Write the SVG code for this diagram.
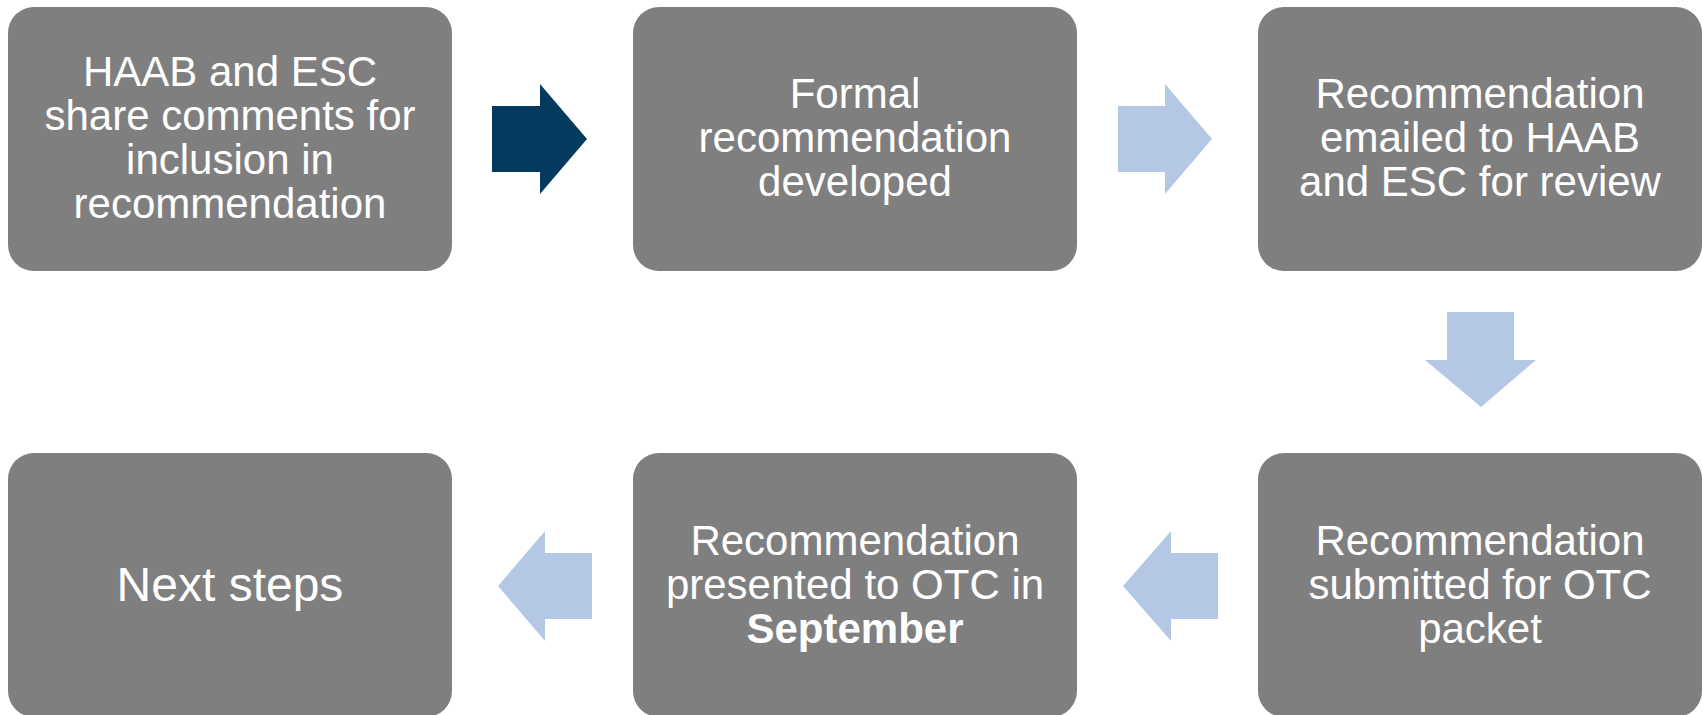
<svg xmlns="http://www.w3.org/2000/svg" width="1703" height="715" viewBox="0 0 1703 715">
<style>
.box{fill:#7f7f7f}
.t{font-family:"Liberation Sans",Arial,sans-serif;font-size:42px;fill:#ffffff;text-anchor:middle}
.big{font-size:48px}
.b{font-weight:bold}
.dark{fill:#033a5d}
.light{fill:#b4c8e6}
</style>
<rect width="1703" height="715" fill="#ffffff"/>
<g id="connectors">
<polygon class="dark" points="492,106 540,106 540,84 587,139 540,194 540,172 492,172"/>
<polygon class="light" points="1118,106 1165,106 1165,84 1212,139 1165,194 1165,172 1118,172"/>
<polygon class="light" points="1447,312 1514,312 1514,360 1536,360 1481,407 1425,360 1447,360"/>
<polygon class="light" points="1218,553 1171,553 1171,531 1123,586 1171,641 1171,619 1218,619"/>
<polygon class="light" points="592,553 545,553 545,531 498,586 545,641 545,619 592,619"/>
</g>
<g id="n1">
<rect class="box" x="8" y="7" width="444" height="264" rx="26"/>
<text class="t" x="230" y="86">HAAB and ESC</text>
<text class="t" x="230" y="130">share comments for</text>
<text class="t" x="230" y="174">inclusion in</text>
<text class="t" x="230" y="218">recommendation</text>
</g>
<g id="n2">
<rect class="box" x="633" y="7" width="444" height="264" rx="26"/>
<text class="t" x="855" y="107.5">Formal</text>
<text class="t" x="855" y="151.5">recommendation</text>
<text class="t" x="855" y="195.5">developed</text>
</g>
<g id="n3">
<rect class="box" x="1258" y="7" width="444" height="264" rx="26"/>
<text class="t" x="1480" y="107.5">Recommendation</text>
<text class="t" x="1480" y="151.5">emailed to HAAB</text>
<text class="t" x="1480" y="195.5">and ESC for review</text>
</g>
<g id="n6">
<rect class="box" x="1258" y="453" width="444" height="264" rx="26"/>
<text class="t" x="1480" y="554.5">Recommendation</text>
<text class="t" x="1480" y="598.5">submitted for OTC</text>
<text class="t" x="1480" y="642.5">packet</text>
</g>
<g id="n5">
<rect class="box" x="633" y="453" width="444" height="264" rx="26"/>
<text class="t" x="855" y="554.5">Recommendation</text>
<text class="t" x="855" y="598.5">presented to OTC in</text>
<text class="t b" x="855" y="642.5">September</text>
</g>
<g id="n4">
<rect class="box" x="8" y="453" width="444" height="264" rx="26"/>
<text class="t big" x="230" y="601">Next steps</text>
</g>
</svg>
